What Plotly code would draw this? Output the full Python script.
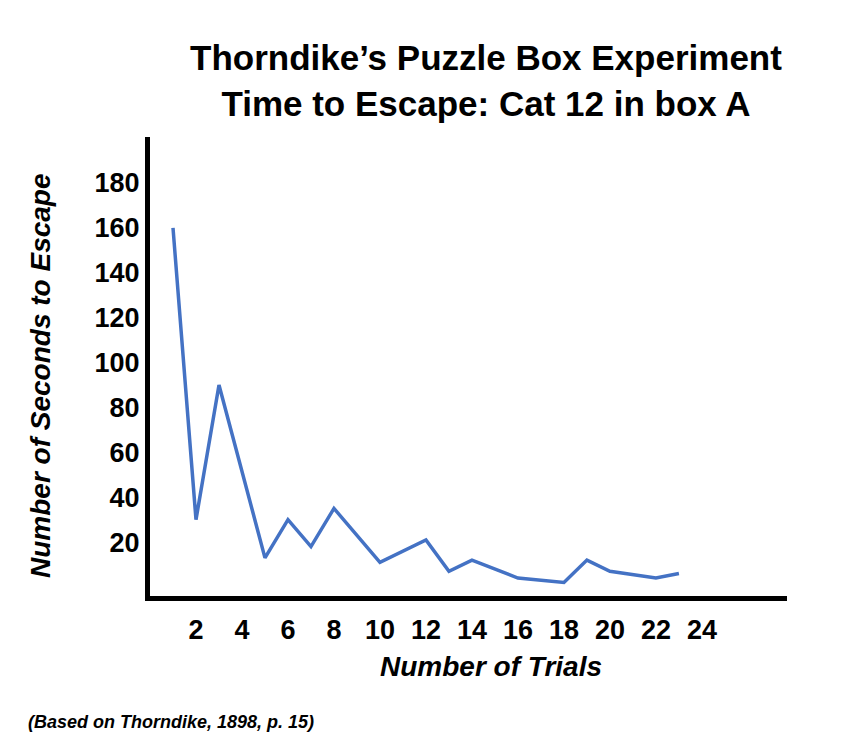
import plotly.graph_objects as go

# Escape times for cat 12 in puzzle box A
trials = [1, 2, 3, 5, 6, 7, 8, 10, 12, 13, 14, 16, 18, 19, 20, 22, 23]
seconds = [160, 30, 90, 13, 30, 18, 35, 11, 21, 7, 12, 4, 2, 12, 7, 4, 6]

x_ticks = [2, 4, 6, 8, 10, 12, 14, 16, 18, 20, 22, 24]
y_ticks = [20, 40, 60, 80, 100, 120, 140, 160, 180]

title_lines = ["Thorndike’s Puzzle Box Experiment", "Time to Escape: Cat 12 in box A"]
x_title = "Number of Trials"
y_title = "Number of Seconds to Escape"
source_note = "(Based on Thorndike, 1898, p. 15)"

FONT = "Liberation Sans, Arial, sans-serif"
LINE_BLUE = "#4472C4"

W, H = 845, 741
M_L, M_R, M_T, M_B = 150, 58, 137, 145

fig = go.Figure(
    go.Scatter(
        x=trials,
        y=seconds,
        mode="lines",
        line=dict(color=LINE_BLUE, width=3.5),
        hoverinfo="x+y",
    )
)

fig.update_layout(
    width=W,
    height=H,
    margin=dict(l=M_L, r=M_R, t=M_T, b=M_B),
    paper_bgcolor="white",
    plot_bgcolor="white",
    showlegend=False,
    font=dict(family=FONT, color="black"),
)

fig.update_xaxes(
    range=[0, 27.7],
    tickvals=x_ticks,
    ticktext=[f"<b>{v}</b>" for v in x_ticks],
    tickfont=dict(size=27, family=FONT, color="black"),
    ticks="",
    ticklabelstandoff=6,
    showgrid=False,
    zeroline=False,
    showline=True,
    linecolor="black",
    linewidth=5,
)

fig.update_yaxes(
    range=[-4, 200.5],
    tickvals=y_ticks,
    ticktext=[f"<b>{v}</b>" for v in y_ticks],
    tickfont=dict(size=27, family=FONT, color="black"),
    ticks="",
    ticklabelstandoff=0,
    showgrid=False,
    zeroline=False,
    showline=True,
    linecolor="black",
    linewidth=5,
)


def px_to_paper(px, py):
    """Convert a pixel position (from the top-left corner) to paper coordinates."""
    return (px - M_L) / (W - M_L - M_R), (H - py - M_B) / (H - M_T - M_B)


texts = [
    dict(text="<b>" + "<br>".join(title_lines) + "</b>", pos=(486, 80), size=35),
    dict(text=f"<b><i>{x_title}</i></b>", pos=(491, 666), size=28),
    dict(text=f"<b><i>{y_title}</i></b>", pos=(40, 376), size=28, angle=-90),
    dict(text=f"<b><i>{source_note}</i></b>", pos=(26, 722), size=18, xanchor="left"),
]

for t in texts:
    x, y = px_to_paper(*t["pos"])
    fig.add_annotation(
        text=t["text"],
        xref="paper",
        yref="paper",
        x=x,
        y=y,
        xanchor=t.get("xanchor", "center"),
        yanchor="middle",
        textangle=t.get("angle", 0),
        align="center",
        font=dict(family=FONT, color="black", size=t["size"]),
        showarrow=False,
    )

fig.write_html("out.html")
